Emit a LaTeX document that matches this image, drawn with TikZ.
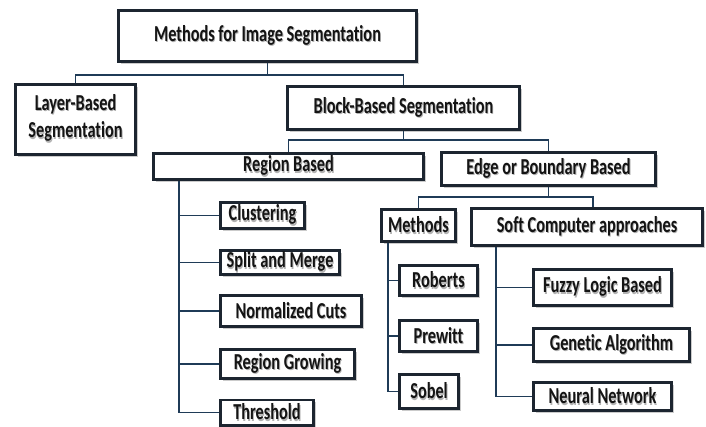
\documentclass[tikz,border=0pt]{standalone}
\usepackage{fontspec}
\setmainfont{Carlito}[Ligatures=NoCommon]
\usepackage{graphicx}
\usetikzlibrary{shadows,calc}
\definecolor{boxline}{HTML}{1C2530}
\definecolor{wire}{HTML}{1F3B57}
\definecolor{ink}{HTML}{141414}
% label text, stretched vertically, with a soft grey copy behind it
\newcommand\lbl[1]{\scalebox{1}[1.4]{\rlap{\kern0.9pt\raisebox{-0.9pt}{\color{black!30}#1}}#1}}
\tikzset{
  box/.style={draw=boxline, line width=2.8pt, fill=white, inner sep=0pt,
    font=\bfseries\fontsize{16.3}{19.5}\selectfont, text=ink,
    drop shadow={shadow xshift=2.5pt, shadow yshift=-2.5pt, fill=black!45, opacity=0.45}},
  wh/.style 2 args={minimum width=#1pt-2.8pt, minimum height=#2pt-2.8pt},
  wire/.style={draw=wire, line width=1.8pt},
}
\begin{document}
\begin{tikzpicture}[x=1pt, y=-1pt]
\useasboundingbox (0,0) rectangle (706,426);

% ---- boxes ----
\node[box, wh={301}{54}] (root) at (267.5,36) {\lbl{Methods for Image Segmentation}};
\node[box, wh={123}{73}] (layer) at (75.5,119.5) {\lbl{\begin{tabular}{@{}c@{}}Layer-Based\\Segmentation\end{tabular}}};
\node[box, wh={235}{46}] (block) at (403.5,108) {\lbl{Block-Based Segmentation}};
\node[box, wh={273}{29}] (region) at (288.5,166.5) {\lbl{Region Based}};
\node[box, wh={217}{36}] (edge) at (548.5,169) {\lbl{Edge or Boundary Based}};
\node[box, wh={77}{35}] (meth) at (418.5,225.5) {\lbl{Methods}};
\node[box, wh={234}{40}] (soft) at (587,227) {\lbl{Soft Computer approaches}};

\node[box, wh={87}{29}] (clus) at (262.5,215.5) {\lbl{Clustering}};
\node[box, wh={122}{27}] (split) at (280,262.5) {\lbl{Split and Merge}};
\node[box, wh={144}{34}] (ncut) at (291,311) {\lbl{Normalized Cuts}};
\node[box, wh={137}{32}] (grow) at (287.5,364) {\lbl{Region Growing}};
\node[box, wh={96}{28}] (thr) at (267,412.5) {\lbl{Threshold}};

\node[box, wh={81}{33}] (rob) at (438.5,280.5) {\lbl{Roberts}};
\node[box, wh={81}{34}] (pre) at (438.5,336) {\lbl{Prewitt}};
\node[box, wh={62}{37}] (sob) at (429,391.5) {\lbl{Sobel}};

\node[box, wh={141}{39}] (fuzzy) at (602.5,287.5) {\lbl{Fuzzy Logic Based}};
\node[box, wh={159}{36}] (gen) at (611.5,345) {\lbl{Genetic Algorithm}};
\node[box, wh={141}{31}] (neur) at (602.5,396.5) {\lbl{Neural Network}};

% ---- tree connectors ----
\draw[wire] (root.south) -- ++(0,12) coordinate (j1);
\draw[wire] (layer.north) |- (j1) -| (block.north);

\draw[wire] (block.south) -- ++(0,9) coordinate (j2);
\draw[wire] (region.north) |- (j2) -| (edge.north);

\coordinate (softtop) at ($(soft.north west)+(123,0)$);
\draw[wire] (edge.south) -- ++(0,10) coordinate (j3);
\draw[wire] (meth.north) |- (j3) -| (softtop);

% spines with side branches
\coordinate (rs) at ($(region.south west)+(27,0)$);
\draw[wire] (rs) |- (thr.west);
\foreach \n in {clus,split,ncut,grow}
  \draw[wire] (\n.west -| rs) -- (\n.west);

\coordinate (ms) at ($(meth.south west)+(8,0)$);
\draw[wire] (ms) |- (sob.west);
\foreach \n in {rob,pre}
  \draw[wire] (\n.west -| ms) -- (\n.west);

\coordinate (ss) at ($(soft.south west)+(26,0)$);
\draw[wire] (ss) |- (neur.west);
\foreach \n in {fuzzy,gen}
  \draw[wire] (\n.west -| ss) -- (\n.west);
\end{tikzpicture}
\end{document}
